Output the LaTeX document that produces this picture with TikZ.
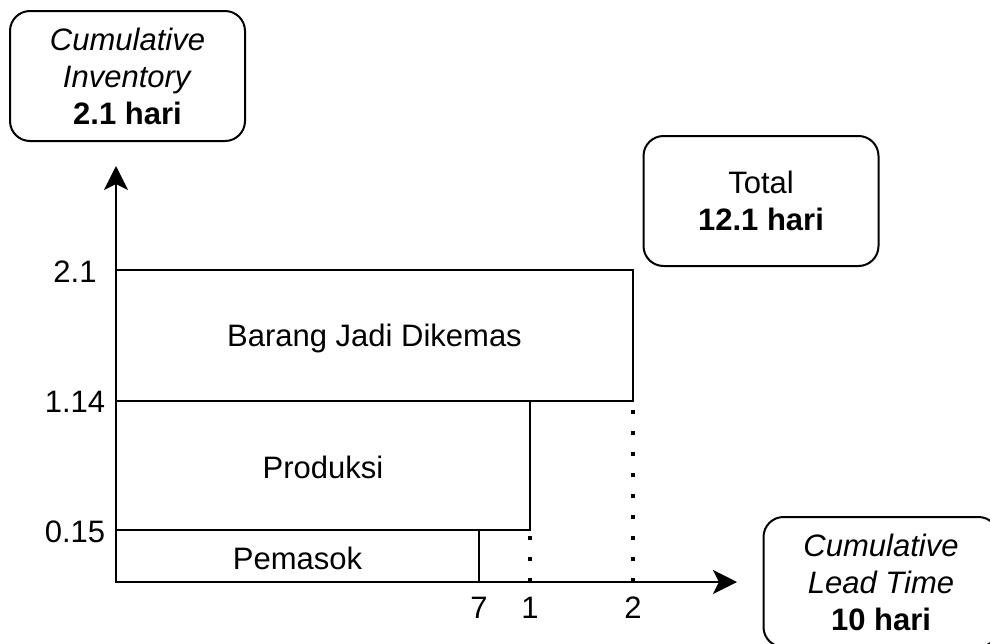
\documentclass[tikz,border=0pt]{standalone}
\usepackage{fontspec}
\setmainfont{Liberation Sans}
\usetikzlibrary{arrows.meta}
\begin{document}
\begin{tikzpicture}[x=0.5pt,y=-0.5pt,
  lbl/.style={font=\fontsize{15.5}{18.5}\selectfont, inner sep=0pt},
  infobox/.style={draw, line width=1pt, rounded corners=10pt,
    minimum width=117.5pt, minimum height=65pt, align=center,
    font=\fontsize{15.5}{18.5}\selectfont, inner sep=0pt},
  bar/.style={draw, line width=1pt},
  axis/.style={line width=1pt, -{Stealth[length=12pt,width=12pt,inset=3pt]}},
  guide/.style={line width=2pt, dash pattern=on 2pt off 8.5pt}
]
\useasboundingbox (0,0) rectangle (990,643);
\clip (0,0) rectangle (990,643);

% axes
\coordinate (O) at (116,582);
\coordinate (ytip) at (116,166);
\coordinate (xtip) at (737,582);

% stacked stages
\draw[bar] (116,270) rectangle (633,401);
\draw[bar] (116,401) rectangle (530,530);
\draw[bar] (116,530) rectangle (479,582);
\node[lbl] (barang) at (374.5,338) {Barang Jadi Dikemas};
\node[lbl] (produksi) at (323,467) {Produksi};
\node[lbl] (pemasok) at (297.5,558) {Pemasok};

% guide lines down to the time axis
\coordinate (g1b) at (530,582);
\coordinate (g1t) at (530,530);
\coordinate (g2b) at (633,582);
\coordinate (g2t) at (633,401);
\draw[guide] (g1b) -- (g1t);
\draw[guide] (g2b) -- (g2t);

\draw[axis] (O) -- (ytip);
\draw[axis] (O) -- (xtip);

% tick labels
\node[lbl] (y21) at (75,272) {2.1};
\node[lbl] (y114) at (75,402) {1.14};
\node[lbl] (y015) at (75,532) {0.15};
\node[lbl] (x7) at (479,608) {7};
\node[lbl] (x1) at (530,608) {1};
\node[lbl] (x2) at (633,608) {2};

% summary boxes
\node[infobox] (inv) at (127.5,76) {\textit{Cumulative}\\\textit{Inventory}\\\textbf{2.1 hari}};
\node[infobox] (total) at (761,201) {Total\\\textbf{12.1 hari}};
\node[infobox] (lead) at (881,582) {\textit{Cumulative}\\\textit{Lead Time}\\\textbf{10 hari}};
\end{tikzpicture}
\end{document}
